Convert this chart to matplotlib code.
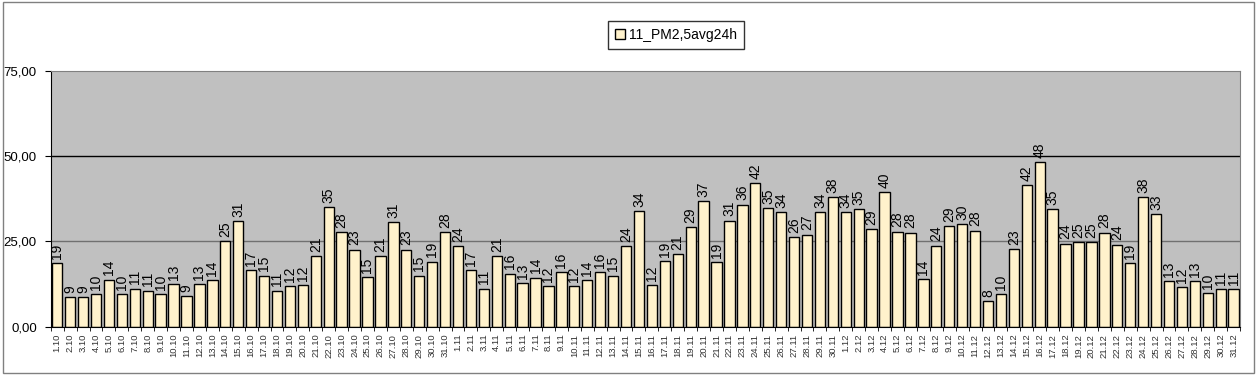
import numpy as np
import matplotlib.pyplot as plt
from matplotlib.patches import Rectangle

plt.rcParams['font.family'] = ['Liberation Sans', 'DejaVu Sans']

oct_days = [f"{d}.10" for d in range(1, 32)]
nov_days = [f"{d}.11" for d in range(1, 31)]
dec_days = [f"{d}.12" for d in range(1, 32)]
dates = oct_days + nov_days + dec_days

pm_oct = [18.6, 8.6, 8.6, 9.6, 13.8, 9.6, 11.2, 10.6, 9.6, 12.6, 8.9, 12.6, 13.6,
          25.2, 31.0, 16.7, 15.0, 10.6, 11.8, 12.1, 20.6, 35.1, 27.8, 22.6, 14.6,
          20.8, 30.6, 22.6, 15.0, 19.1, 27.8]
pm_nov = [23.6, 16.7, 11.2, 20.8, 15.6, 12.9, 14.4, 11.8, 16.1, 11.8, 13.6, 15.9,
          15.0, 23.7, 34.0, 12.2, 19.2, 21.2, 29.1, 36.9, 18.9, 31.1, 35.8, 42.2,
          34.9, 33.6, 26.2, 27.0, 33.7, 38.1]
pm_dec = [33.6, 34.6, 28.6, 39.6, 27.9, 27.6, 14.0, 23.8, 29.4, 30.2, 28.2, 7.6,
          9.6, 22.7, 41.6, 48.3, 34.6, 24.4, 24.9, 24.7, 27.6, 24.1, 18.6, 38.1,
          33.1, 13.4, 11.6, 13.4, 9.9, 11.1, 11.1]
pm25 = pm_oct + pm_nov + pm_dec

fig = plt.figure(figsize=(12.59, 3.75), dpi=100)
ax = fig.add_axes([0.0403, 0.1288, 0.9447, 0.6819])

x = np.arange(len(dates))
ax.set_facecolor('#c0c0c0')
ax.axhline(25, color='#707070', lw=1, zorder=1)
ax.axhline(50, color='black', lw=1, zorder=1)
bars = ax.bar(x, pm25, width=0.8, color='#fff2cc', edgecolor='black', lw=1,
              zorder=2, label='11_PM2,5avg24h')

for xi, v in zip(x, pm25):
    ax.annotate(f"{v:.0f}", (xi, v), xytext=(0, 3), textcoords='offset points',
                rotation=90, ha='center', va='bottom', fontsize=10)

ax.set_xlim(-0.5, len(dates) - 0.5)
ax.set_ylim(0, 75)
ax.set_yticks([0, 25, 50, 75])
ax.set_yticklabels(['0,00', '25,00', '50,00', '75,00'], fontsize=9.5)
ax.set_xticks(x)
ax.set_xticklabels(dates, rotation=90, fontsize=6.8, color='#333333')
ax.tick_params(axis='x', length=0, pad=5)
ax.set_xticks(np.arange(len(dates) + 1) - 0.5, minor=True)
ax.tick_params(axis='x', which='minor', length=3, direction='out')
ax.tick_params(axis='y', length=4, direction='out', pad=6)

for side in ['top', 'right']:
    ax.spines[side].set_color('#808080')
ax.spines['left'].set_color('black')
ax.spines['bottom'].set_color('black')

fig.legend(handles=[bars], loc='center', bbox_to_anchor=(676 / 1259, 1 - 35 / 375),
           fontsize=10, frameon=True, fancybox=False, edgecolor='black',
           handlelength=0.7, handleheight=0.7, handletextpad=0.3, borderpad=0.5)

fig.patches.append(Rectangle((0.002, 0.006), 0.994, 0.99, transform=fig.transFigure,
                             fill=False, edgecolor='#808080', lw=1))

fig.savefig('out.png', dpi=100)
